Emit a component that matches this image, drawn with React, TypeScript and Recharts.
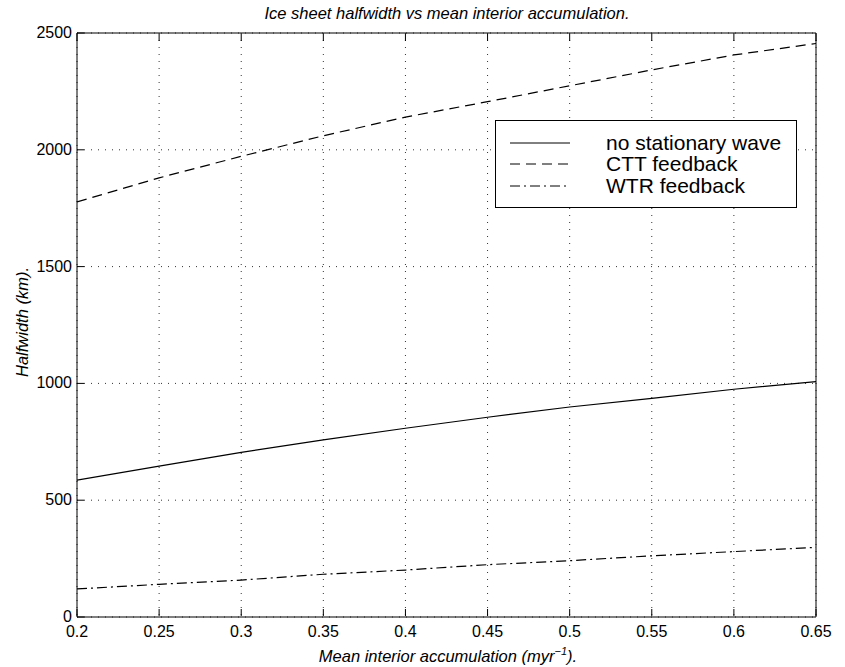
import { LineChart, Line, XAxis, YAxis, CartesianGrid, Legend } from "recharts"

// values (halfwidth in km)
const accumulation = [0.2, 0.25, 0.3, 0.35, 0.4, 0.45, 0.5, 0.55, 0.6, 0.65]
const noStationaryWave = [586, 646, 705, 758, 808, 855, 899, 936, 975, 1008]
const cttFeedback = [1777, 1880, 1972, 2060, 2140, 2206, 2274, 2342, 2406, 2455]
const wtrFeedback = [120, 140, 158, 183, 201, 224, 241, 262, 280, 298]

const xTicks = [0.2, 0.25, 0.3, 0.35, 0.4, 0.45, 0.5, 0.55, 0.6, 0.65]
const yTicks = [0, 500, 1000, 1500, 2000, 2500]

const series = [
    { key: "noWave", name: "no stationary wave", values: noStationaryWave, dash: undefined },
    { key: "ctt", name: "CTT feedback", values: cttFeedback, dash: "10 6" },
    { key: "wtr", name: "WTR feedback", values: wtrFeedback, dash: "10 4 2 4" },
]

const data = accumulation.map((a, i) => {
    const row: Record<string, number> = { a }
    series.forEach(s => { row[s.key] = s.values[i] })
    return row
})

const FONT = "'Liberation Sans', Arial, Helvetica, sans-serif"
const TICK_LEN = 7

const BottomTick = ({ x, y, payload }: any) => (
    <g>
        <line x1={x} y1={y - 1} x2={x} y2={y - 1 - TICK_LEN} stroke="#000" />
        <text x={x} y={y + 20} textAnchor="middle" fontSize={16} fontFamily={FONT} fill="#000">
            {String(payload.value)}
        </text>
    </g>
)

const TopTick = ({ x, y }: any) => (
    <line x1={x} y1={y + 1} x2={x} y2={y + 1 + TICK_LEN} stroke="#000" />
)

const LeftTick = ({ x, y, payload }: any) => (
    <g>
        <line x1={x} y1={y} x2={x + TICK_LEN} y2={y} stroke="#000" />
        <text x={x - 5} y={y + 5} textAnchor="end" fontSize={16} fontFamily={FONT} fill="#000">
            {String(payload.value)}
        </text>
    </g>
)

const RightTick = ({ x, y }: any) => (
    <line x1={x} y1={y} x2={x - TICK_LEN} y2={y} stroke="#000" />
)

const LegendBox = () => (
    <div style={{
        width: 300, height: 75, border: "1px solid #000", background: "#fff",
        fontFamily: FONT, fontSize: 21, paddingTop: 11,
    }}>
        {series.map(s => (
            <div key={s.key} style={{ display: "flex", alignItems: "center", height: 21.5 }}>
                <svg width={110} height={10} style={{ flex: "none" }}>
                    <line x1={14} y1={5} x2={74} y2={5} stroke="#000" strokeDasharray={s.dash} />
                </svg>
                <span style={{ lineHeight: "20px", whiteSpace: "nowrap" }}>{s.name}</span>
            </div>
        ))}
    </div>
)

export default function App() {
    return (
        <div style={{ position: "absolute", left: 0, top: 0, width: 845, height: 667, background: "#fff" }}>
            <LineChart width={845} height={667} data={data} margin={{ top: 32, right: 28, bottom: 49, left: 76 }}>
                <CartesianGrid stroke="#333" strokeDasharray="1 6" />
                <XAxis dataKey="a" type="number" domain={[0.2, 0.65]} ticks={xTicks} interval={0}
                    height={1} tickSize={0} tickMargin={0} tickLine={false} stroke="#000"
                    tick={<BottomTick />} allowDataOverflow />
                <XAxis xAxisId="top" orientation="top" dataKey="a" type="number" domain={[0.2, 0.65]}
                    ticks={xTicks} interval={0} height={1} tickSize={0} tickMargin={0} tickLine={false}
                    stroke="#000" tick={<TopTick />} allowDataOverflow />
                <YAxis type="number" domain={[0, 2500]} ticks={yTicks} interval={0} width={1}
                    tickSize={0} tickMargin={0} tickLine={false} stroke="#000" tick={<LeftTick />} />
                <YAxis yAxisId="right" orientation="right" type="number" domain={[0, 2500]} ticks={yTicks}
                    interval={0} width={1} tickSize={0} tickMargin={0} tickLine={false} stroke="#000"
                    tick={<RightTick />} />
                {series.map(s => (
                    <Line key={s.key} dataKey={s.key} name={s.name} type="linear" stroke="#000"
                        strokeWidth={1.2} strokeDasharray={s.dash} dot={false} isAnimationActive={false} />
                ))}
                <Legend content={<LegendBox />} layout="horizontal" verticalAlign="middle" align="center"
                    wrapperStyle={{ position: "absolute", left: 495, top: 120, width: "auto", height: "auto" }} />
            </LineChart>
            <svg width={845} height={667} style={{ position: "absolute", left: 0, top: 0, pointerEvents: "none" }}>
                <text x={447} y={19} textAnchor="middle" fontSize={16.5} fontStyle="italic" fontFamily={FONT}>
                    Ice sheet halfwidth vs mean interior accumulation.
                </text>
                <text x={448} y={662} textAnchor="middle" fontSize={16.5} fontStyle="italic" fontFamily={FONT}>
                    Mean interior accumulation (myr<tspan dy={-7} fontSize={11}>−1</tspan><tspan dy={7}>).</tspan>
                </text>
                <text transform="translate(28, 322) rotate(-90)" textAnchor="middle" fontSize={16.5}
                    fontStyle="italic" fontFamily={FONT}>
                    Halfwidth (km).
                </text>
            </svg>
        </div>
    )
}
